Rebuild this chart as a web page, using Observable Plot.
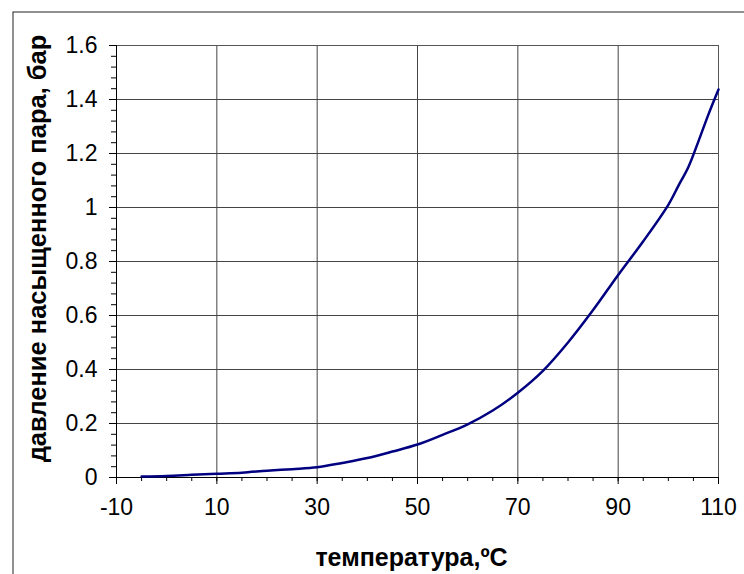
<!DOCTYPE html>
<html>
<head>
<meta charset="utf-8">
<script src="https://cdn.jsdelivr.net/npm/d3@7"></script>
<script src="https://cdn.jsdelivr.net/npm/@observablehq/plot@0.6"></script>
<style>
  html, body { margin: 0; padding: 0; background: #fff; overflow: hidden; }
  #chart svg { display: block; overflow: hidden; }
</style>
</head>
<body>
<div id="chart"></div>
<script>
// Data
const temperatures = [-5, 0, 5, 10, 15, 20, 25, 30, 35, 40, 45, 50, 55, 60, 65, 70, 75, 80, 85, 90, 95, 100, 102, 104, 106, 108, 110];
const pressures    = [0.004, 0.006, 0.010, 0.014, 0.018, 0.025, 0.031, 0.038, 0.054, 0.072, 0.096, 0.122, 0.158, 0.197, 0.248, 0.314, 0.395, 0.50, 0.62, 0.75, 0.875, 1.01, 1.08, 1.15, 1.245, 1.345, 1.437];

const xTicks = [-10, 10, 30, 50, 70, 90, 110];
const xMinorTicks = d3.range(-10, 110.001, 5);
const yTicks = [0, 0.2, 0.4, 0.6, 0.8, 1, 1.2, 1.4, 1.6];
const yMinorTicks = d3.range(0, 1.6001, 0.04).map(v => +v.toFixed(2));

const xTitle = "температура,ºС";
const yTitle = "давление насыщенного пара, бар";

const data = temperatures.map((t, i) => ({t, p: pressures[i]}));

const font = "'Liberation Sans', Arial, sans-serif";

const chart = Plot.plot({
  width: 744,
  height: 574,
  marginLeft: 116,
  marginRight: 26,
  marginTop: 45,
  marginBottom: 97,
  style: {fontFamily: font, fontSize: "23px", color: "#000", background: "#fff"},
  x: {domain: [-10, 110]},
  y: {domain: [0, 1.6]},
  marks: [
    // outer chart area border
    Plot.frame({stroke: "#222", strokeWidth: 1, insetLeft: -103.5, insetTop: -33.5, insetRight: -60, insetBottom: -160}),
    // grid
    Plot.gridX(xTicks, {stroke: "#444", strokeOpacity: 1}),
    Plot.gridY(yTicks, {stroke: "#444", strokeOpacity: 1}),
    Plot.frame({stroke: "#555"}),
    // minor ticks
    Plot.axisX({ticks: xMinorTicks, tickSize: 4, tickFormat: () => "", label: null, stroke: "#000"}),
    Plot.axisY({ticks: yMinorTicks, tickSize: 5, tickFormat: () => "", label: null, stroke: "#000"}),
    // major ticks & labels
    Plot.axisX({ticks: xTicks, tickSize: 7, tickPadding: 14, tickFormat: d => String(d), label: null, stroke: "#000", fontSize: 23}),
    Plot.axisY({ticks: yTicks, tickSize: 7, tickPadding: 12, tickFormat: d => String(+d.toFixed(1)), label: null, stroke: "#000", fontSize: 23}),
    Plot.ruleY([0], {stroke: "#000"}),
    Plot.ruleX([-10], {stroke: "#000"}),
    // curve
    Plot.line(data, {x: "t", y: "p", stroke: "#000080", strokeWidth: 2.5, curve: "catmull-rom"}),
    // titles
    Plot.text([xTitle], {text: d => d, frameAnchor: "bottom", textAnchor: "middle", dy: 88, dx: -6, lineAnchor: "bottom", fontWeight: "bold", fontSize: 25, fill: "#000"}),
    Plot.text([yTitle], {text: d => d, frameAnchor: "left", textAnchor: "middle", rotate: -90, dx: -71, dy: -13, lineAnchor: "bottom", fontWeight: "bold", fontSize: 25.5, fill: "#000"})
  ]
});
document.getElementById("chart").appendChild(chart);
</script>
</body>
</html>
